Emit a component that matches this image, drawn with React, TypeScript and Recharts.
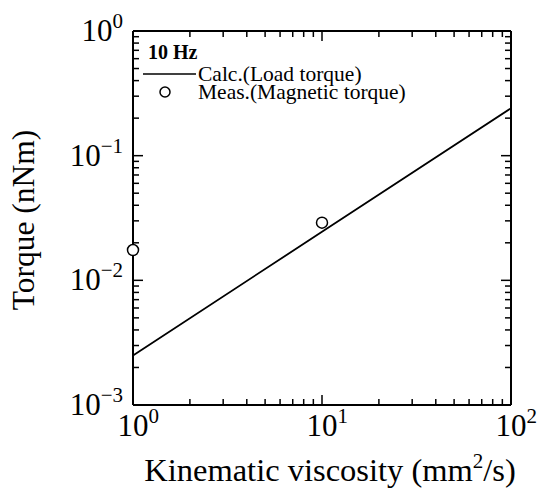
import React from "react";
import {
  ComposedChart,
  Line,
  Scatter,
  XAxis,
  YAxis,
  Legend,
  Label,
  ReferenceLine,
} from "recharts";

// Calculated load torque (straight line on log-log axes)
const CALC_VISCOSITY = [1, 10, 100];
const CALC_TORQUE = [0.0025, 0.0245, 0.24];

// Measured magnetic torque
const MEAS_VISCOSITY = [1, 10];
const MEAS_TORQUE = [0.0175, 0.029];

const X_TICKS = [1, 2, 3, 4, 5, 6, 7, 8, 9, 10, 20, 30, 40, 50, 60, 70, 80, 90, 100];
const Y_TICKS = [
  0.001, 0.002, 0.003, 0.004, 0.005, 0.006, 0.007, 0.008, 0.009,
  0.01, 0.02, 0.03, 0.04, 0.05, 0.06, 0.07, 0.08, 0.09,
  0.1, 0.2, 0.3, 0.4, 0.5, 0.6, 0.7, 0.8, 0.9, 1,
];

const calcData = CALC_VISCOSITY.map((v, i) => ({ x: v, y: CALC_TORQUE[i] }));
const measData = MEAS_VISCOSITY.map((v, i) => ({ x: v, y: MEAS_TORQUE[i] }));

const FONT = "'Liberation Serif', 'Times New Roman', serif";
const W = 540;
const H = 490;
const M_LEFT = 133;
const M_RIGHT = 29;
const M_TOP = 31;
const M_BOTTOM = 85;
const PLOT_W = W - M_LEFT - M_RIGHT;
const PLOT_H = H - M_TOP - M_BOTTOM;
const X_MIN = X_TICKS[0];
const X_MAX = X_TICKS[X_TICKS.length - 1];
const Y_MIN = Y_TICKS[0];
const Y_MAX = Y_TICKS[Y_TICKS.length - 1];

const decade = (v: number) => Math.round(Math.log10(v));
const isMajor = (v: number) => Math.abs(Math.log10(v) - decade(v)) < 1e-6;
const tickLen = (v: number) => (isMajor(v) ? 10 : 6);
const expText = (v: number) => String(decade(v)).replace("-", "\u2212");

// pixel tick length -> multiplicative step on each log axis
const xStep = (px: number) => Math.pow(10, (px * Math.log10(X_MAX / X_MIN)) / PLOT_W);
const yStep = (px: number) => Math.pow(10, (px * Math.log10(Y_MAX / Y_MIN)) / PLOT_H);

const frameTicks: { key: string; seg: { x: number; y: number }[] }[] = [];
X_TICKS.forEach((v) => {
  const s = yStep(tickLen(v));
  frameTicks.push({ key: `b${v}`, seg: [{ x: v, y: Y_MIN }, { x: v, y: Y_MIN * s }] });
  frameTicks.push({ key: `t${v}`, seg: [{ x: v, y: Y_MAX }, { x: v, y: Y_MAX / s }] });
});
Y_TICKS.forEach((v) => {
  const s = xStep(tickLen(v));
  frameTicks.push({ key: `l${v}`, seg: [{ x: X_MIN, y: v }, { x: X_MIN * s, y: v }] });
  frameTicks.push({ key: `r${v}`, seg: [{ x: X_MAX, y: v }, { x: X_MAX / s, y: v }] });
});

const BottomLabel = (p: any) => {
  const v = p.payload.value;
  if (!isMajor(v)) return <g />;
  return (
    <text x={p.x - 15.5} y={p.y + 31} fontSize={31} fontFamily={FONT} fill="#000">
      10<tspan dy={-13} fontSize={21}>{expText(v)}</tspan>
    </text>
  );
};

const LeftLabel = (p: any) => {
  const v = p.payload.value;
  if (!isMajor(v)) return <g />;
  return (
    <text x={p.x - 10} y={p.y + 10} textAnchor="end" fontSize={31} fontFamily={FONT} fill="#000">
      10<tspan dy={-13} fontSize={21}>{expText(v)}</tspan>
    </text>
  );
};

const OpenCircle = (props: any) => (
  <circle cx={props.cx} cy={props.cy} r={5.5} fill="#fff" stroke="#000" strokeWidth={1.5} />
);

const renderLegend = (props: any) => {
  const payload = (props.payload || []).filter((e: any) => e.type !== "none");
  return (
    <svg width={320} height={70} style={{ display: "block", fontFamily: FONT }}>
      <text x={8} y={21} fontSize={20} fontWeight="bold" fill="#000">10 Hz</text>
      {payload.map((entry: any, i: number) => {
        const cy = 36 + i * 18;
        return (
          <g key={entry.value}>
            {entry.type === "line" ? (
              <line x1={3} x2={56} y1={cy} y2={cy} stroke="#000" strokeWidth={1.5} />
            ) : (
              <circle cx={25} cy={cy} r={5} fill="#fff" stroke="#000" strokeWidth={1.5} />
            )}
            <text x={58} y={cy + 7} fontSize={21.5} fill="#000">{entry.value}</text>
          </g>
        );
      })}
    </svg>
  );
};

export default function App() {
  return (
    <div style={{ position: "absolute", left: 0, top: 0 }}>
      <ComposedChart width={W} height={H} margin={{ top: 0, right: 0, bottom: 0, left: 0 }}>
        <XAxis
          dataKey="x"
          type="number"
          scale="log"
          domain={[X_MIN, X_MAX]}
          ticks={X_TICKS}
          interval={0}
          height={M_BOTTOM}
          tickSize={0}
          tickMargin={0}
          tickLine={false}
          tick={BottomLabel}
          axisLine={{ stroke: "#000", strokeWidth: 2 }}
        >
          <Label
            content={() => (
              <text x={330} y={481} textAnchor="middle" fontSize={32.5} fontFamily={FONT} fill="#000">
                Kinematic viscosity (mm<tspan dy={-13} fontSize={21}>2</tspan>
                <tspan dy={13}>/s)</tspan>
              </text>
            )}
          />
        </XAxis>
        <XAxis
          xAxisId="top"
          orientation="top"
          dataKey="x"
          type="number"
          scale="log"
          domain={[X_MIN, X_MAX]}
          height={M_TOP}
          tick={false}
          tickLine={false}
          axisLine={{ stroke: "#000", strokeWidth: 2 }}
        />
        <YAxis
          dataKey="y"
          type="number"
          scale="log"
          domain={[Y_MIN, Y_MAX]}
          ticks={Y_TICKS}
          interval={0}
          width={M_LEFT}
          tickSize={0}
          tickMargin={0}
          tickLine={false}
          tick={LeftLabel}
          axisLine={{ stroke: "#000", strokeWidth: 2 }}
        >
          <Label
            content={() => (
              <text
                x={34}
                y={220}
                transform="rotate(-90 34 220)"
                textAnchor="middle"
                fontSize={31.5}
                fontFamily={FONT}
                fill="#000"
              >
                Torque (nNm)
              </text>
            )}
          />
        </YAxis>
        <YAxis
          yAxisId="right"
          orientation="right"
          dataKey="y"
          type="number"
          scale="log"
          domain={[Y_MIN, Y_MAX]}
          width={M_RIGHT}
          tick={false}
          tickLine={false}
          axisLine={{ stroke: "#000", strokeWidth: 2 }}
        />
        {frameTicks.map((t) => (
          <ReferenceLine key={t.key} segment={t.seg} stroke="#000" strokeWidth={1.5} ifOverflow="extendDomain" />
        ))}
        <Line
          data={calcData}
          dataKey="y"
          name="Calc.(Load torque)"
          type="linear"
          stroke="#000"
          strokeWidth={1.8}
          dot={false}
          legendType="line"
          isAnimationActive={false}
        />
        <Scatter
          data={measData}
          dataKey="y"
          name="Meas.(Magnetic torque)"
          shape={OpenCircle}
          legendType="circle"
          isAnimationActive={false}
        />
        <Legend
          layout="vertical"
          align="center"
          verticalAlign="middle"
          wrapperStyle={{ top: 38, left: 140, width: 320 }}
          content={renderLegend}
        />
      </ComposedChart>
    </div>
  );
}
